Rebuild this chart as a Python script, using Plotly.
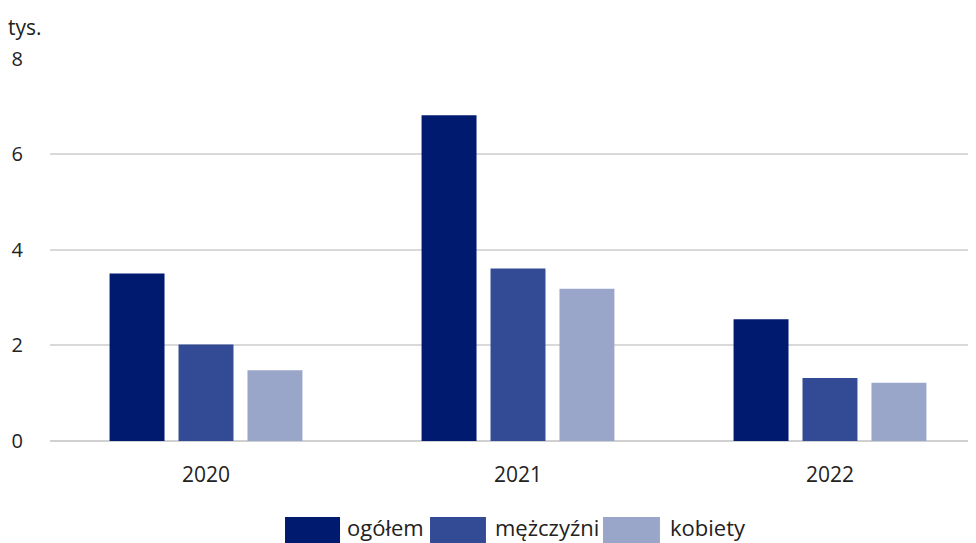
import plotly.graph_objects as go

years = ["2020", "2021", "2022"]
ogolem = [3.51, 6.82, 2.55]
mezczyzni = [2.02, 3.61, 1.32]
kobiety = [1.48, 3.19, 1.22]
series_names = ["ogółem", "mężczyźni", "kobiety"]
colors = ["#001A70", "#334A94", "#99A6C9"]

# legend layout (paper coords): swatch left, swatch right, text left
legend_slots = [(0.2538, 0.3132, 0.3186), (0.4104, 0.4708, 0.4784), (0.5972, 0.6587, 0.6674)]

fig = go.Figure()
for name, vals, col in zip(series_names, [ogolem, mezczyzni, kobiety], colors):
    fig.add_trace(go.Bar(x=years, y=vals, name=name,
                         marker=dict(color=col, line=dict(width=0))))

font_family = "Open Sans, Noto Sans, sans-serif"
txt_color = "#222222"

shapes = []
annotations = [dict(text="tys.", xref="paper", yref="paper", x=-0.0475, y=1.081,
                    xanchor="left", yanchor="middle", showarrow=False,
                    font=dict(size=21, color=txt_color))]
for (x0, x1, tx), name, col in zip(legend_slots, series_names, colors):
    shapes.append(dict(type="rect", xref="paper", yref="paper", x0=x0, x1=x1,
                       y0=-0.1984, y1=-0.275, fillcolor=col, line=dict(width=0)))
    annotations.append(dict(text=name, xref="paper", yref="paper", x=tx, y=-0.2235,
                            xanchor="left", yanchor="middle", showarrow=False,
                            font=dict(size=22, color=txt_color)))

# the page adds an 8px body margin, so the figure is drawn 8px smaller
fig.update_layout(
    width=968, height=535,
    margin=dict(l=42, r=0, t=50, b=102),
    paper_bgcolor="white", plot_bgcolor="white",
    barmode="group", bargap=0.337, bargroupgap=0.203,
    font=dict(family=font_family, size=20, color=txt_color),
    showlegend=False,
    xaxis=dict(type="category", range=[-0.5, 2.468], showgrid=False, automargin=False,
               showline=False, ticks="", tickfont=dict(size=21), ticklabelstandoff=19),
    yaxis=dict(range=[0, 8.02], dtick=2, showgrid=True, gridcolor="#D9D9D9",
               gridwidth=1.5, zeroline=True, zerolinecolor="#D0D0D0", automargin=False,
               zerolinewidth=2, showline=False, ticks="",
               ticklabelstandoff=26, tickfont=dict(size=20)),
    shapes=shapes,
    annotations=annotations,
)

fig.write_html("out.html")
